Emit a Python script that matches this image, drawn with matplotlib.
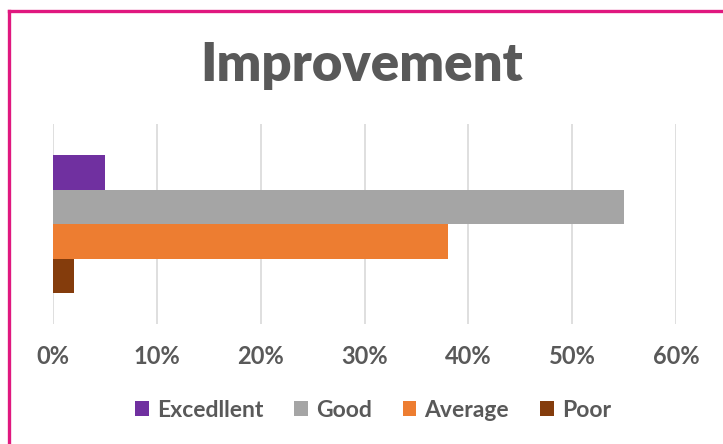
import matplotlib.pyplot as plt
from matplotlib.lines import Line2D

# data
categories = ['Excedllent', 'Good', 'Average', 'Poor']
values = [5, 55, 38, 2]
colors = ['#7030a0', '#a5a5a5', '#ed7d31', '#843c0c']
ticks = [0, 10, 20, 30, 40, 50, 60]

plt.rcParams['font.family'] = ['Lato', 'DejaVu Sans']

fig = plt.figure(figsize=(7.23, 4.44), dpi=100)
fig.patch.set_facecolor('white')
W, H = 723, 444
ax = fig.add_axes([53 / W, (H - 324) / H, (676 - 53) / W, 200 / H])

bh = 0.1725
n = len(values)
for i, (cat, v, c) in enumerate(zip(categories, values, colors)):
    y = (n - 1) / 2 * bh - i * bh
    ax.barh(y, v, height=bh, color=c, label=cat, zorder=3)

ax.set_xlim(0, 60)
ax.set_ylim(-0.5, 0.5)
ax.set_xticks(ticks)
ax.set_xticklabels([f'{t}%' for t in ticks], fontsize=17, fontweight='bold', color='#595959')
ax.set_yticks([])
ax.tick_params(axis='x', length=0, pad=15)
ax.grid(axis='x', color='#d9d9d9', linewidth=1.2, zorder=0)
for s in ax.spines.values():
    s.set_visible(False)

fig.text(0.5, (H - 66) / H, 'Improvement', ha='center', va='center',
         fontsize=38, fontweight='heavy', color='#595959')

ax.legend(loc='center', bbox_to_anchor=(373 / W, (H - 410) / H), bbox_transform=fig.transFigure,
          ncol=4, frameon=False, handlelength=0.6, handleheight=0.6, handletextpad=0.35,
          columnspacing=1.35, prop={'size': 16.5, 'weight': 'bold'}, labelcolor='#595959')

# pink frame (top and left edges)
fig.add_artist(Line2D([9 / W, 1], [(H - 11.5) / H, (H - 11.5) / H], color='#e0187f', linewidth=2.4,
                      transform=fig.transFigure))
fig.add_artist(Line2D([9 / W, 9 / W], [0, (H - 11.5) / H], color='#e0187f', linewidth=2.4,
                      transform=fig.transFigure))

fig.savefig('out.png', dpi=100)
